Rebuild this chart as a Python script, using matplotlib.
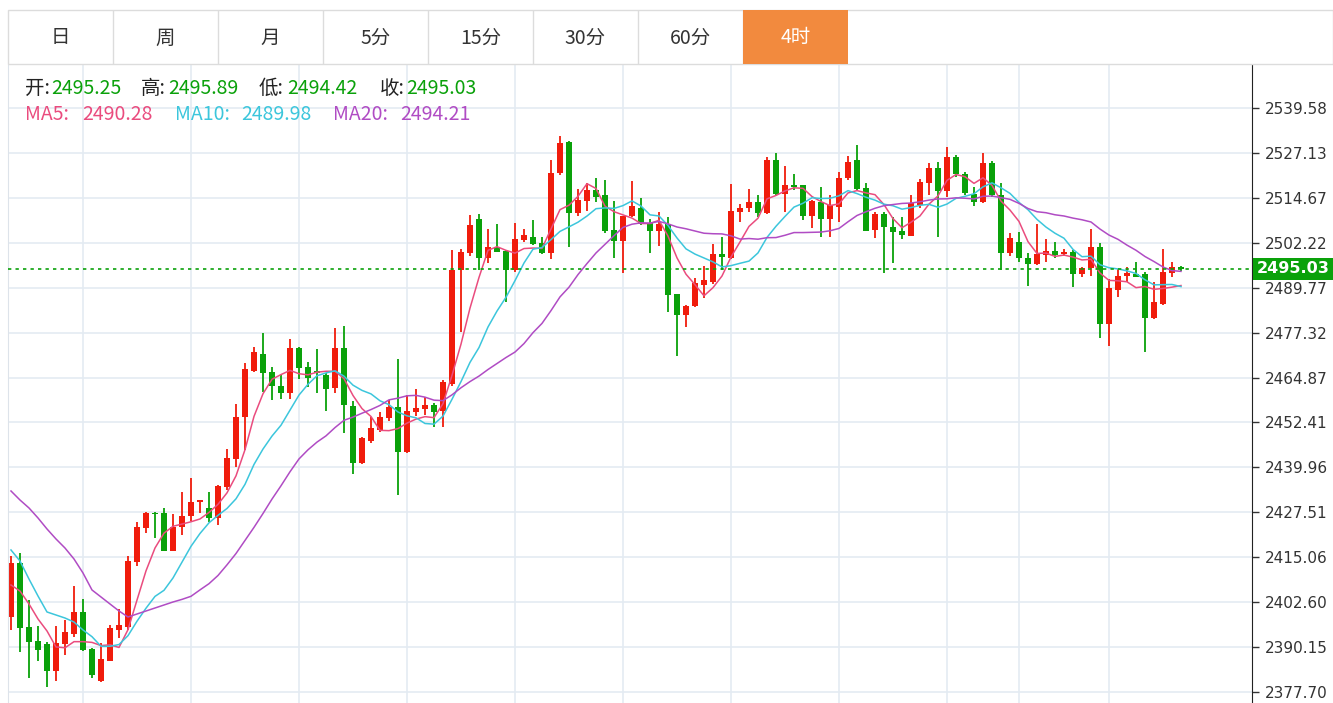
import numpy as np
import pandas as pd
import matplotlib
matplotlib.use("Agg")
import matplotlib.pyplot as plt
from matplotlib.patches import Rectangle

plt.rcParams["font.family"] = ["Noto Sans CJK SC", "DejaVu Sans"]

# 4h candles, oldest first
opens = [
    2398.56, 2413.37, 2395.79, 2391.83, 2391.00, 2383.51, 2390.91, 2393.69, 2399.78, 2389.61,
    2380.65, 2386.37, 2394.88, 2395.79, 2413.72, 2423.07, 2427.39, 2427.23, 2416.86, 2423.35,
    2426.48, 2430.28, 2428.61, 2425.84, 2434.44, 2442.28, 2454.01, 2466.76, 2471.39, 2466.48,
    2462.60, 2460.49, 2472.97, 2467.70, 2466.67, 2465.48, 2461.88, 2472.97, 2457.06, 2441.09,
    2447.35, 2450.32, 2453.56, 2456.78, 2444.14, 2455.23, 2456.06, 2457.25, 2455.67, 2463.07,
    2494.67, 2499.30, 2508.73, 2497.92, 2501.13, 2500.02, 2494.67, 2503.00, 2503.90, 2502.08,
    2499.30, 2521.65, 2530.10, 2510.39, 2513.80, 2516.85, 2515.38, 2505.76, 2502.80, 2509.64,
    2511.94, 2507.62, 2505.48, 2507.34, 2487.94, 2482.20, 2484.69, 2490.51, 2491.43, 2499.02,
    2497.92, 2510.84, 2511.94, 2513.44, 2510.39, 2525.17, 2515.74, 2518.24, 2518.24, 2509.64,
    2513.61, 2508.73, 2512.22, 2520.09, 2525.17, 2517.32, 2505.76, 2510.20, 2506.68, 2505.48,
    2504.18, 2512.69, 2518.71, 2523.03, 2516.66, 2525.92, 2521.29, 2515.66, 2513.61, 2524.42,
    2515.46, 2499.30, 2502.35, 2497.92, 2496.34, 2498.83, 2500.02, 2499.11, 2499.75, 2493.56,
    2495.14, 2500.96, 2479.70, 2489.13, 2493.09, 2493.48, 2493.48, 2481.28, 2485.25, 2493.76,
    2495.25,
]
highs = [
    2415.39, 2416.31, 2403.19, 2396.07, 2391.55, 2396.07, 2397.65, 2407.07, 2403.47, 2389.89,
    2391.19, 2396.26, 2400.61, 2415.39, 2424.82, 2427.50, 2427.67, 2428.61, 2427.03, 2433.05,
    2437.10, 2431.00, 2433.22, 2435.07, 2445.05, 2457.53, 2468.81, 2473.25, 2477.12, 2467.70,
    2465.57, 2475.46, 2473.25, 2469.09, 2472.69, 2466.03, 2478.68, 2479.15, 2458.36, 2448.46,
    2454.01, 2455.39, 2458.64, 2470.00, 2460.02, 2461.60, 2459.55, 2457.72, 2464.18, 2500.22,
    2500.41, 2509.92, 2510.20, 2505.96, 2507.34, 2500.10, 2507.62, 2505.96, 2508.53, 2503.74,
    2525.17, 2531.82, 2530.50, 2517.05, 2518.87, 2520.09, 2519.62, 2513.80, 2509.75, 2519.34,
    2514.71, 2508.73, 2510.67, 2509.28, 2488.00, 2484.97, 2492.37, 2495.86, 2501.88, 2503.90,
    2518.43, 2512.88, 2517.05, 2515.46, 2526.08, 2527.02, 2523.50, 2521.20, 2518.30, 2514.08,
    2517.76, 2515.46, 2521.92, 2526.28, 2529.32, 2518.71, 2510.84, 2510.84, 2509.45, 2509.45,
    2515.46, 2519.90, 2524.42, 2524.70, 2528.85, 2526.55, 2521.92, 2517.76, 2527.02, 2524.97,
    2518.71, 2504.84, 2505.12, 2499.30, 2507.34, 2503.35, 2502.52, 2500.50, 2500.22, 2495.42,
    2506.04, 2502.07, 2492.09, 2494.86, 2495.42, 2496.97, 2494.04, 2491.26, 2500.41, 2496.97,
    2495.89,
]
lows = [
    2394.88, 2388.86, 2381.49, 2386.37, 2378.99, 2380.74, 2387.95, 2393.02, 2389.05, 2381.66,
    2380.40, 2386.20, 2392.58, 2394.88, 2412.62, 2421.68, 2420.30, 2416.70, 2416.70, 2421.21,
    2425.18, 2427.23, 2424.90, 2423.98, 2433.69, 2439.98, 2444.78, 2466.40, 2460.94, 2458.64,
    2459.00, 2458.83, 2464.37, 2462.32, 2460.49, 2455.59, 2460.49, 2449.57, 2438.12, 2440.81,
    2446.63, 2449.85, 2452.90, 2432.30, 2444.00, 2454.20, 2454.48, 2451.07, 2451.23, 2462.50,
    2477.57, 2498.55, 2494.67, 2496.53, 2499.60, 2485.89, 2494.20, 2502.52, 2501.60, 2499.11,
    2497.64, 2521.00, 2501.13, 2509.64, 2511.03, 2513.44, 2505.01, 2498.08, 2493.92, 2509.50,
    2507.15, 2499.47, 2501.33, 2483.11, 2470.92, 2478.79, 2484.50, 2487.00, 2490.79, 2494.67,
    2497.80, 2508.06, 2510.84, 2509.28, 2510.20, 2515.60, 2510.84, 2516.85, 2508.53, 2506.23,
    2503.74, 2503.90, 2508.06, 2519.60, 2516.85, 2505.40, 2503.63, 2493.92, 2496.69, 2503.18,
    2504.00, 2511.78, 2515.46, 2503.90, 2514.83, 2520.54, 2515.46, 2512.41, 2513.33, 2515.00,
    2494.67, 2498.55, 2496.97, 2490.23, 2496.06, 2496.89, 2497.92, 2498.55, 2489.87, 2492.65,
    2493.01, 2475.74, 2473.61, 2487.27, 2491.43, 2492.65, 2472.03, 2481.10, 2485.10, 2492.82,
    2494.42,
]
closes = [
    2413.37, 2395.35, 2391.47, 2389.33, 2383.51, 2391.19, 2394.24, 2399.95, 2389.33, 2382.49,
    2386.76, 2395.35, 2396.26, 2414.00, 2423.51, 2427.23, 2427.03, 2416.86, 2423.51, 2426.56,
    2430.45, 2430.91, 2425.84, 2434.80, 2442.47, 2454.01, 2467.15, 2472.03, 2466.20, 2462.52,
    2460.49, 2472.97, 2467.42, 2464.65, 2466.20, 2461.77, 2472.97, 2457.25, 2441.25, 2448.02,
    2450.79, 2453.84, 2456.78, 2444.14, 2455.59, 2456.34, 2457.25, 2455.39, 2463.54, 2494.67,
    2499.75, 2507.15, 2497.92, 2501.13, 2499.75, 2494.67, 2503.27, 2504.29, 2501.80, 2499.30,
    2521.65, 2529.96, 2510.47, 2514.08, 2516.85, 2514.99, 2505.48, 2502.80, 2509.64, 2512.41,
    2507.43, 2505.48, 2507.34, 2487.74, 2482.20, 2484.78, 2490.98, 2491.90, 2499.02, 2498.36,
    2511.03, 2511.94, 2513.44, 2510.39, 2525.17, 2515.74, 2518.24, 2517.76, 2509.64, 2513.80,
    2508.73, 2512.69, 2520.26, 2524.70, 2517.04, 2505.57, 2510.20, 2506.51, 2505.29, 2504.37,
    2513.16, 2518.98, 2522.86, 2516.66, 2525.92, 2521.29, 2515.94, 2513.61, 2524.42, 2515.46,
    2499.47, 2503.46, 2497.92, 2496.34, 2499.11, 2500.02, 2498.83, 2499.75, 2493.56, 2495.14,
    2500.96, 2479.70, 2489.60, 2493.01, 2493.76, 2492.82, 2481.28, 2485.72, 2494.20, 2495.59,
    2495.03,
]

# moving average values before enough candles are on screen
ma5_head = [2407.35, 2405.68, 2402.09, 2397.93]
ma10_head = [2417.06, 2414.00, 2409.00, 2404.30, 2399.87, 2399.03, 2398.20, 2397.09, 2394.88]
ma20_head = [2433.41, 2430.91, 2428.70, 2425.93, 2422.88, 2420.11, 2417.60, 2414.56, 2410.68,
             2405.97, 2404.03, 2402.09, 2400.15, 2398.48, 2399.31, 2400.15, 2400.98, 2401.81,
             2402.64]
ma_names = ["MA5:", "MA10:", "MA20:"]
ma_values = ["2490.28", "2489.98", "2494.21"]

y_ticks = [2539.58, 2527.13, 2514.67, 2502.22, 2489.77, 2477.32, 2464.87,
           2452.41, 2439.96, 2427.51, 2415.06, 2402.60, 2390.15, 2377.70]
grid_idx = [8, 20, 32, 44, 56, 68, 80, 92, 104, 112, 122]
tabs = ["日", "周", "月", "5分", "15分", "30分", "60分", "4时"]
active_tab = "4时"

RED = "#f01c0c"
GREEN = "#0aa10a"
MA_COLORS = ["#ea4c7e", "#3cc6dc", "#b04cc4"]
GRID = "#e4ebf2"

W, H = 1333, 703


def ma(values, n, head):
    out = pd.Series(values).rolling(n).mean().to_numpy()
    out[: len(head)] = head
    return out


o = np.array(opens)
h = np.array(highs)
l = np.array(lows)
c = np.array(closes)
x = np.arange(len(c))

fig = plt.figure(figsize=(W / 100, H / 100), dpi=100)
ax = fig.add_axes([8 / W, 0, 1244 / W, 638 / H])
ax.set_xlim(-0.333, 137.89)
ax.set_ylim(2374.64, 2551.50)

# grid
for v in y_ticks:
    ax.axhline(v, color=GRID, lw=1.2, zorder=0)
for i in grid_idx:
    ax.axvline(i, color=GRID, lw=1.2, zorder=0)

# candles
up = c >= o
colors = np.where(up, RED, GREEN)
ax.vlines(x, l, h, colors=colors, lw=1.3, zorder=2)
ax.bar(x, np.maximum(np.abs(c - o), 0.35), width=0.74, bottom=np.minimum(o, c),
       color=colors, lw=0, zorder=2)

# moving averages
for n, head, col in zip([5, 10, 20], [ma5_head, ma10_head, ma20_head], MA_COLORS):
    ax.plot(x, ma(c, n, head), color=col, lw=1.1, zorder=3)

# last price line and tag
last = c[-1]
ax.axhline(last, color=GREEN, lw=1.2, ls=(0, (2, 2.5)), zorder=4)
ax.text(1.004, last, f"{last:.2f}", transform=ax.get_yaxis_transform(),
        ha="left", va="center", color="white", fontsize=11.5, fontweight="bold",
        family="DejaVu Sans", clip_on=False, zorder=10,
        bbox=dict(boxstyle="square,pad=0.22", fc=GREEN, ec="none"))

# axes styling
ax.yaxis.tick_right()
ax.set_yticks(y_ticks)
ax.set_yticklabels([f"{v:.2f}" for v in y_ticks], family="DejaVu Sans",
                   fontsize=11, color="#333333")
ax.tick_params(axis="y", length=5, width=1, color="#333333", pad=4)
ax.set_xticks([])
for side in ["top", "bottom"]:
    ax.spines[side].set_visible(False)
ax.spines["right"].set_color("#222222")
ax.spines["left"].set_color("#dde3ea")


# tab bar
def fx(px):
    return px / W


def fy(py):
    return 1 - py / H


fig.patches.append(Rectangle((fx(8), fy(64)), fx(W - 8), 54 / H, transform=fig.transFigure,
                             fc="white", ec="#dcdcdc", lw=1))
for k, name in enumerate(tabs):
    x0 = 8 + 105 * k
    active = name == active_tab
    if active:
        fig.patches.append(Rectangle((fx(x0), fy(64)), 105 / W, 54 / H,
                                     transform=fig.transFigure, fc="#f28a3e", ec="none"))
    else:
        fig.patches.append(Rectangle((fx(x0 + 105), fy(64)), 0, 54 / H,
                                     transform=fig.transFigure, fc="none", ec="#dcdcdc", lw=1))
    fig.text(fx(x0 + 52.5), fy(38), name, ha="center", va="center", fontsize=14,
             color="white" if active else "#333333")

# OHLC info row
info = [("开:", opens[-1], 25, 51), ("高:", highs[-1], 141, 168),
        ("低:", lows[-1], 259, 287), ("收:", closes[-1], 380, 406)]
for label, val, lx, vx in info:
    fig.text(fx(lx), fy(88), label, ha="left", va="center", fontsize=14, color="#222222")
    fig.text(fx(vx), fy(88), f"{val:.2f}", ha="left", va="center", fontsize=14, color=GREEN)

for name, val, col, nx, vx in zip(ma_names, ma_values, MA_COLORS,
                                  [25, 175, 333], [82, 241, 400]):
    fig.text(fx(nx), fy(115), name, ha="left", va="center", fontsize=14, color=col)
    fig.text(fx(vx), fy(115), val, ha="left", va="center", fontsize=14, color=col)

fig.savefig("out.png", dpi=100, facecolor="white")
